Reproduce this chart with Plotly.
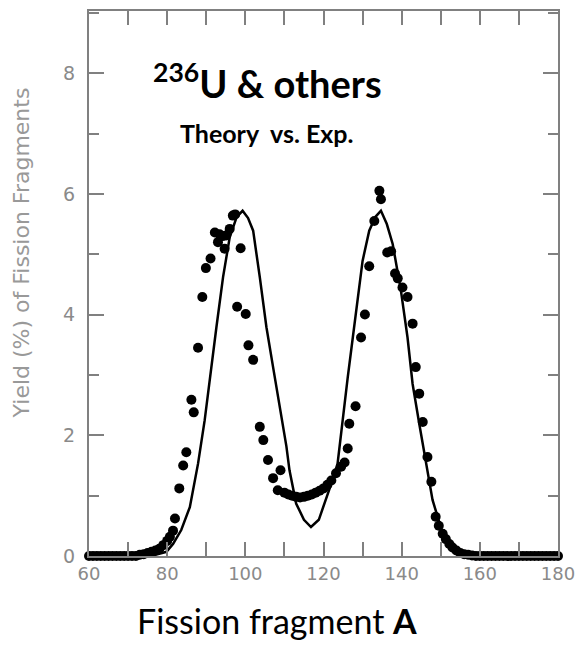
import plotly.graph_objects as go

# Theory curve (fragment mass number A, yield %)
theory_A = [60, 65, 70, 74, 77, 79.8, 81.5, 83.6, 85.8, 87.9, 89.6, 90.9, 92.6, 94.3, 96, 97.8,
            99.3, 100.7, 102, 103.7, 105.4, 107.1, 108.8, 110.5, 111.3, 113, 115, 116.8, 118.8,
            120.6, 122, 123.6, 124.9, 126.2, 127.5, 128.8, 130, 131.7, 133.3, 134.7, 136.2,
            137.7, 139.8, 141.5, 142.8, 144.5, 146.2, 147.9, 150.5, 152.5, 154.7, 157, 160, 170, 180]
theory_Y = [0, 0, 0, 0, 0.02, 0.07, 0.2, 0.43, 0.81, 1.53, 2.25, 2.96, 3.79, 4.62, 5.28, 5.62,
            5.72, 5.6, 5.39, 4.62, 3.79, 3.13, 2.45, 1.82, 1.42, 0.87, 0.6, 0.48, 0.6,
            0.93, 1.2, 1.53, 2.3, 2.96, 3.62, 4.29, 4.89, 5.39, 5.62, 5.72, 5.5,
            5.17, 4.4, 3.62, 2.85, 2.19, 1.53, 0.93, 0.37, 0.18, 0.1, 0.04, 0.01, 0, 0]

# Experimental points
exp_A = [60, 61, 62, 63, 64, 65, 66, 67, 68, 69, 70, 71, 72,
         73, 74, 75, 76, 77, 78, 79, 80, 80.7, 81.5, 82, 83.1, 84.1, 84.9, 86.2, 86.8, 87.9,
         89, 89.9, 91.1, 92.2, 93, 93.4, 94.2, 94.7, 95.1, 96, 96.8, 97.4, 97.9, 98.8, 100.1,
         100.8, 102, 103.7, 104.6, 105.8, 107.1, 108.3, 109, 110, 111, 112, 113, 114, 115,
         116, 117, 118, 119, 120, 121, 122, 123.2, 124.5, 125.4, 126.2, 126.6, 128.2, 129.6,
         130.6, 131.7, 133, 134.3, 134.7, 136.3, 137.3, 138.3, 139, 140.2, 141.5, 142.8,
         143.6, 144.5, 145.4, 146.6, 147.6, 148.7, 149.5, 150.5, 151.3, 152.2, 153, 154, 155,
         156, 157, 158, 159, 160, 161, 162, 163, 164, 165, 166, 167, 168, 169, 170, 171, 172,
         173, 174, 175, 176, 177, 178, 179, 180]
exp_Y = [0, 0, 0, 0, 0, 0, 0, 0, 0, 0, 0, 0, 0,
         0.02, 0.03, 0.05, 0.07, 0.09, 0.12, 0.18, 0.25, 0.32, 0.42, 0.62, 1.12, 1.5, 1.72, 2.59, 2.38, 3.45,
         4.29, 4.77, 4.93, 5.36, 5.2, 5.33, 5.3, 5.09, 5.31, 5.42, 5.64, 5.66, 4.13, 5.1, 4.01,
         3.49, 3.25, 2.14, 1.92, 1.59, 1.29, 1.09, 1.42, 1.05, 1.02, 1.0, 0.98, 0.97, 0.98,
         1.0, 1.02, 1.05, 1.08, 1.12, 1.18, 1.25, 1.37, 1.48, 1.55, 1.78, 2.19, 2.48, 3.62,
         4.0, 4.8, 5.55, 6.05, 5.91, 5.03, 5.05, 4.68, 4.6, 4.45, 4.29, 3.85,
         3.13, 2.69, 2.22, 1.64, 1.23, 0.65, 0.5, 0.37, 0.28, 0.2, 0.14, 0.09, 0.05,
         0.03, 0.02, 0.01, 0, 0, 0, 0, 0, 0, 0, 0, 0, 0, 0, 0, 0, 0,
         0, 0, 0, 0, 0, 0, 0, 0]

x_tickvals = [60, 70, 80, 90, 100, 110, 120, 130, 140, 150, 160, 170, 180]
x_ticktext = ["60", "", "80", "", "100", "", "120", "", "140", "", "160", "", "180"]
y_tickvals = [0, 2, 4, 6, 8]

GREY = "#808080"

fig = go.Figure()
fig.add_trace(go.Scatter(x=exp_A, y=exp_Y, mode="markers",
                         marker=dict(color="black", size=10), cliponaxis=False,
                         showlegend=False))
fig.add_trace(go.Scatter(x=theory_A, y=theory_Y, mode="lines",
                         line=dict(color="black", width=2.5), cliponaxis=False,
                         showlegend=False))

fig.update_layout(
    width=584, height=652,
    margin=dict(l=89, r=25, t=9, b=96),
    paper_bgcolor="white", plot_bgcolor="white",
    xaxis=dict(range=[60, 180], tickvals=x_tickvals, ticktext=x_ticktext,
               ticks="inside", ticklen=14, tickcolor=GREY, tickwidth=2,
               showline=True, linecolor=GREY, linewidth=2, mirror="ticks",
               showgrid=False, zeroline=False,
               tickfont=dict(family="DejaVu Sans", size=18, color="#8a8a8a")),
    yaxis=dict(range=[0, 9.03], tickvals=y_tickvals,
               ticks="inside", ticklen=15, tickcolor=GREY, tickwidth=2,
               minor=dict(dtick=1, ticks="inside", ticklen=10, tickcolor=GREY, tickwidth=2),
               showline=True, linecolor=GREY, linewidth=2, mirror="ticks",
               showgrid=False, zeroline=False, ticklabelstandoff=8,
               tickfont=dict(family="DejaVu Sans", size=19, color="#8a8a8a")),
)

fig.add_annotation(x=-0.142, y=0.556, xref="paper", yref="paper",
                   text="Yield (%) of Fission Fragments", textangle=-90, showarrow=False,
                   xanchor="center", yanchor="middle",
                   font=dict(family="DejaVu Sans", size=22, color="#999999"))
fig.add_annotation(x=0.40, y=-0.118, xref="paper", yref="paper",
                   text="Fission fragment <b>A</b>", showarrow=False,
                   xanchor="center", yanchor="middle",
                   font=dict(family="Lato", size=34, color="black"))
fig.add_annotation(x=0.38, y=0.872, xref="paper", yref="paper",
                   text="<b><sup>236</sup>U &amp; others</b>", showarrow=False,
                   xanchor="center", yanchor="middle",
                   font=dict(family="Lato", size=38, color="black"))
fig.add_annotation(x=0.38, y=0.776, xref="paper", yref="paper",
                   text="<b>Theory  vs. Exp.</b>", showarrow=False,
                   xanchor="center", yanchor="middle",
                   font=dict(family="Lato", size=25, color="black"))

fig.write_html("out.html")
